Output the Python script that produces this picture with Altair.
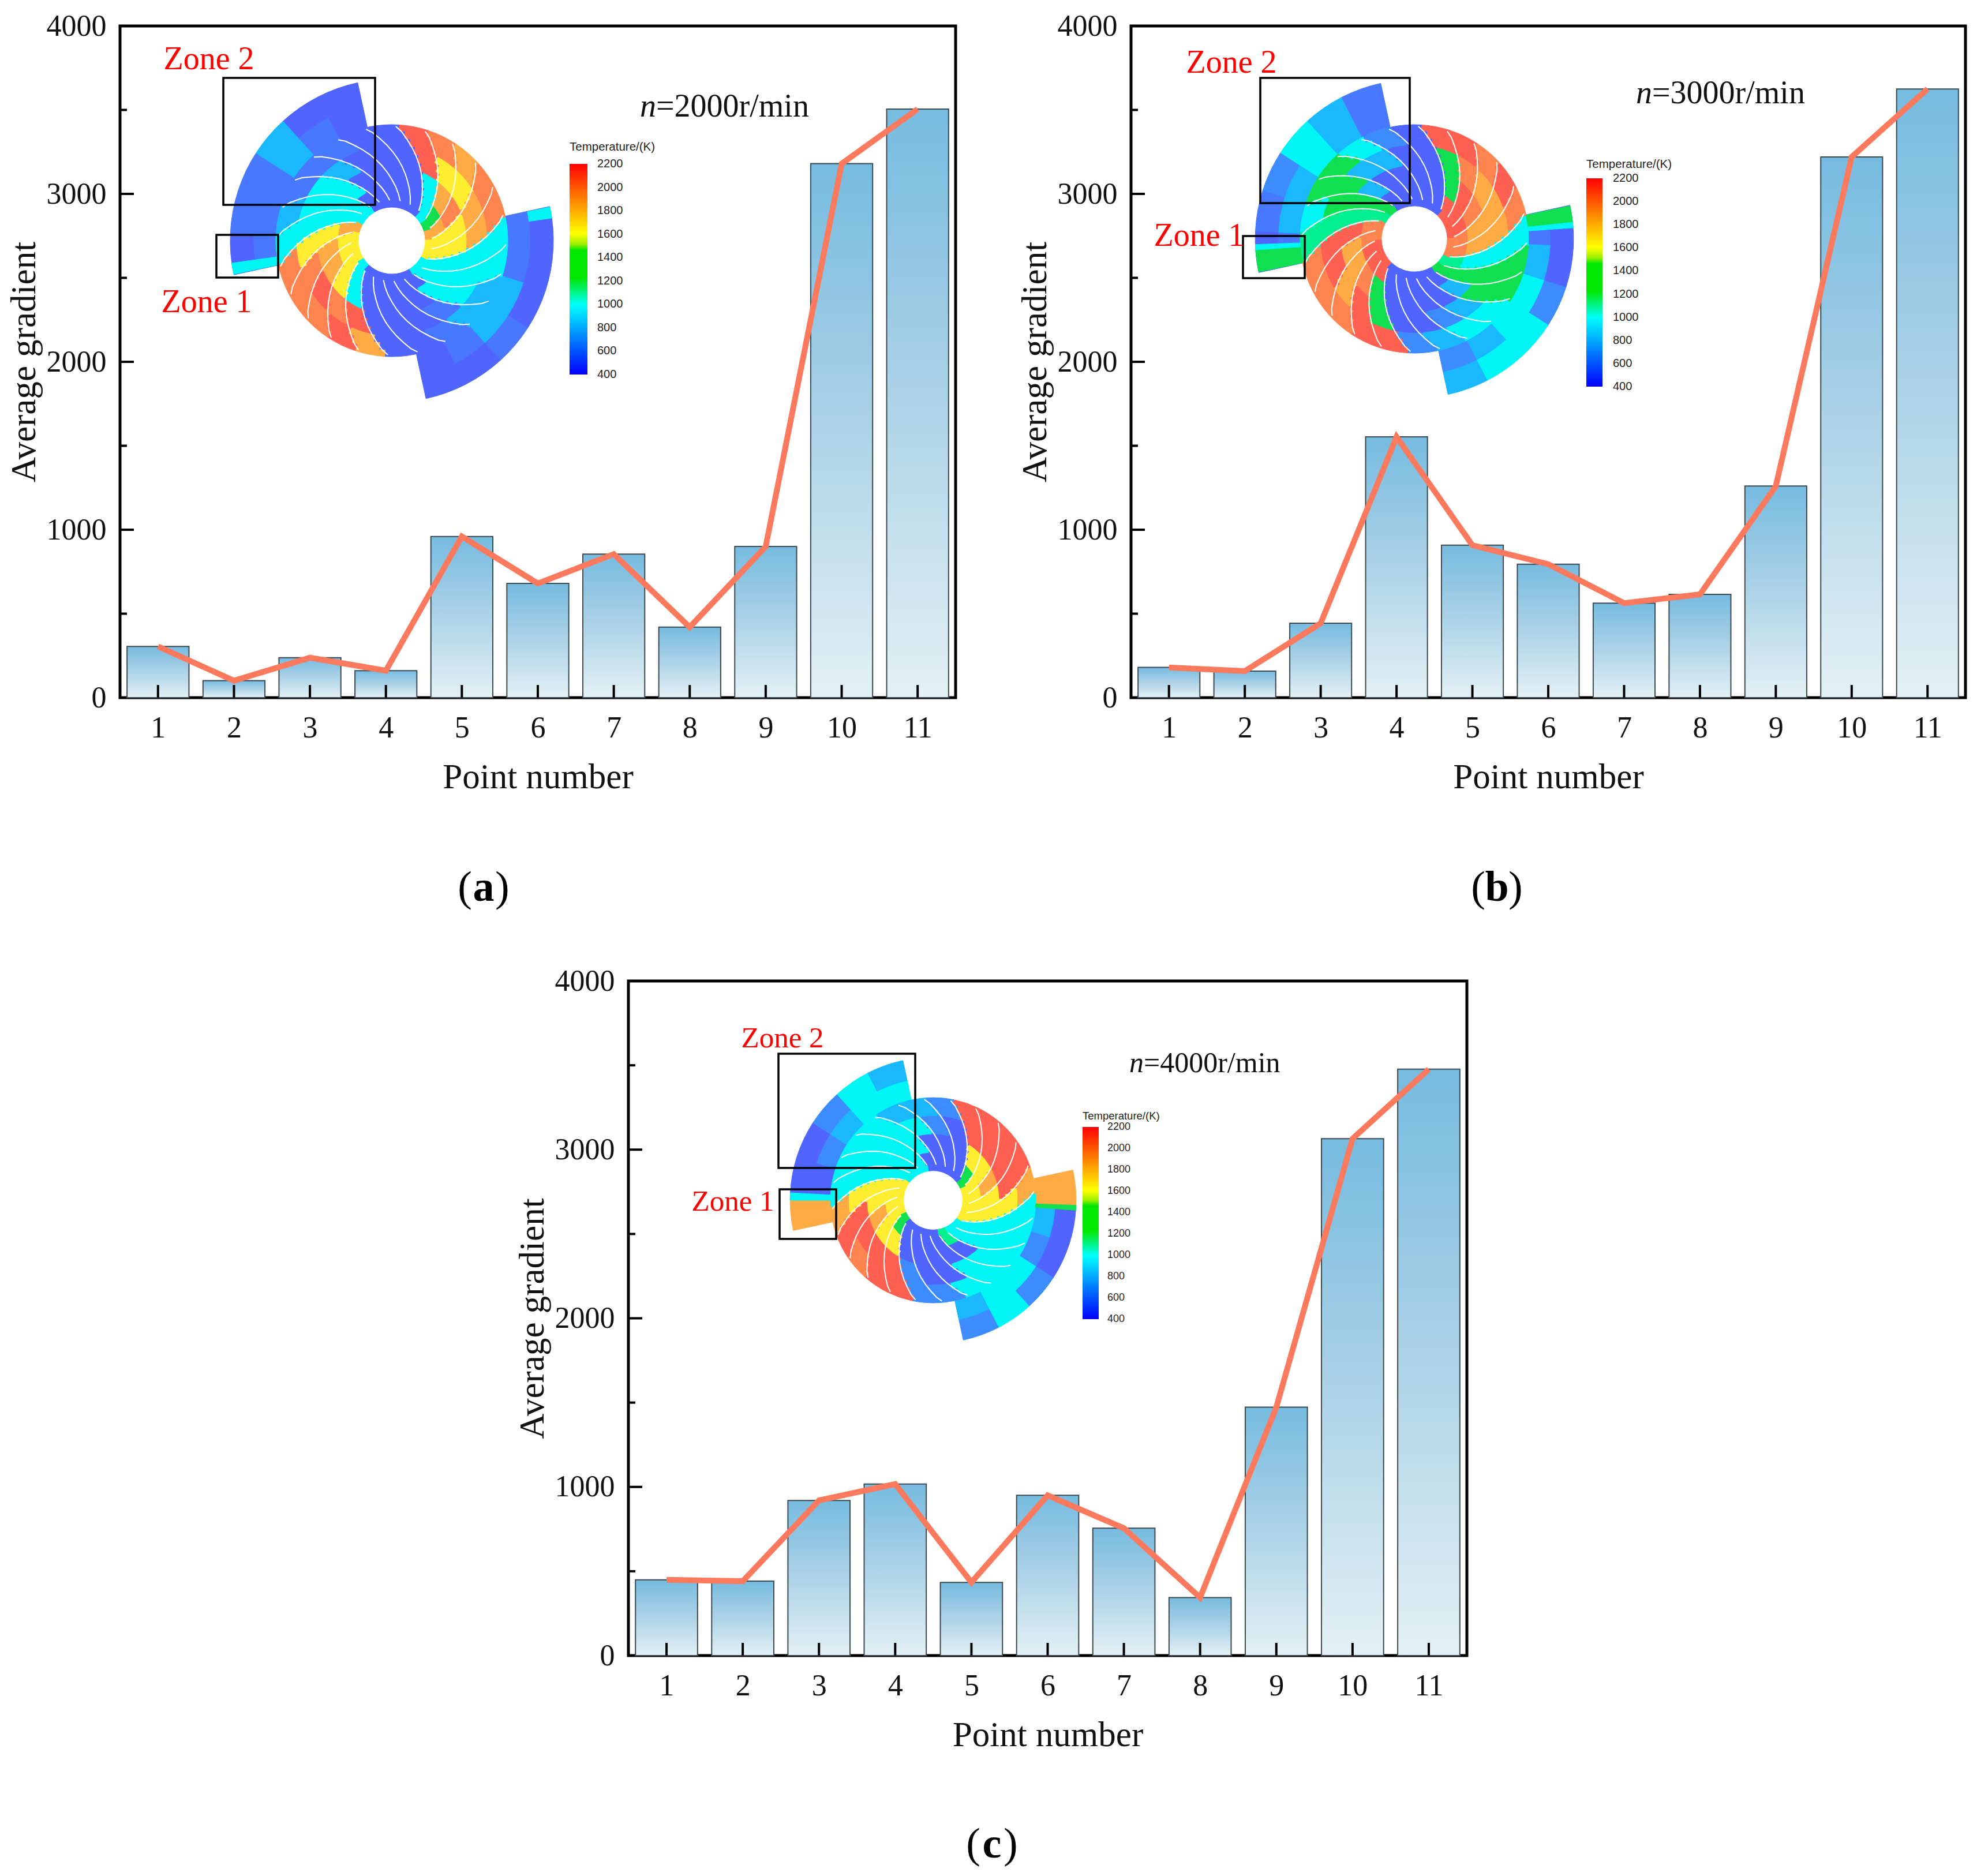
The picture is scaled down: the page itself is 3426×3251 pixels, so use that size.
import math
import altair as alt
import pandas as pd

POINTS = list(range(1, 12))
VALUES_A = [305, 101, 238, 161, 960, 680, 855, 420, 900, 3180, 3505]
VALUES_B = [180, 158, 443, 1553, 908, 795, 563, 615, 1260, 3220, 3625]
VALUES_C = [449, 441, 920, 1017, 434, 950, 755, 344, 1473, 3065, 3477]

COL = {"B": "#5065ff", "N": "#4878ff", "M": "#3d8cff", "L": "#19b8ff", "C": "#00f5f5", "G": "#00f090",
       "E": "#10e050", "Y": "#ffee30", "O": "#ffab45", "R": "#ff6052", "S": "#ff8550"}

RING_R = [58, 70, 82, 94, 106, 118, 130, 142, 154, 166, 178, 190, 201]
RING_A = [46, 42, 38, 34, 30, 26.4, 22.8, 19.2, 15.6, 12, 8.4, 5, 2]
TEMP_LABELS = [2200, 2000, 1800, 1600, 1400, 1200, 1000, 800, 600, 400]

INSET_A = dict(
    hot1=["CCRR", "EOYS", "OSYO", "YYOS", "YYOS"],
    cold1=["CCCC", "CCCC", "BCCL", "BBNL", "BBBN", "BBBB", "BBBB"],
    hot2=["CCRO", "YYSR", "YORS", "YOSS", "OYYS"],
    cold2=["CCCC", "CCCL", "BCCN", "BBLN", "BBBN", "BBBB", "BBBB"],
    wedge_lr=["NB", "NB", "LB", "LN", "NB", "BB"],
    wedge_ul=["NB", "NN", "NN", "LL", "NB", "BB"],
    patches=[(258, 262, 201, 280, "C"), (78, 82, 240, 280, "C")],
)
INSET_B = dict(
    hot1=["REER", "RRSR", "RSOS", "SOOR", "SOOS"],
    cold1=["GCCC", "EEEE", "BLEE", "BBLC", "BBMC", "BBBL", "BBBM"],
    hot2=["REER", "RSRR", "ROOS", "SORS", "SRRS"],
    cold2=["GGGG", "EEEC", "BLEE", "BBLE", "BBLC", "BBBM", "BBBB"],
    wedge_lr=["NB", "LB", "CM", "CC", "LC", "ML"],
    wedge_ul=["NB", "LN", "LM", "CC", "LL", "NN"],
    patches=[(258, 266, 201, 280, "E"), (266, 268, 201, 280, "C"),
             (78, 84, 201, 280, "E"), (84, 86, 201, 280, "C")],
)
INSET_C = dict(
    hot1=["EYRR", "YYRR", "YORR", "YYRR", "YYYO"],
    cold1=["CCCC", "CCCC", "GBCC", "BBCC", "BBBC", "BBBM", "BBMM"],
    hot2=["EYRR", "YYRR", "YORS", "YYRR", "YYYO"],
    cold2=["CCCC", "CCCC", "CCCC", "BCCC", "BBCL", "BBML", "BBBM"],
    wedge_lr=["OO", "LB", "MB", "CM", "CC", "LM"],
    wedge_ul=["OO", "BB", "MB", "LM", "CC", "CL"],
    patches=[(270, 273, 201, 280, "C"), (92, 94, 201, 280, "E")],
)


def panel(values, rect, inset, center, scale, rot, zones, zone_text, zone_size, speed,
          speed_xy, speed_size, bar_rect, temp_xy, temp_size, cap, cap_letter):
    left, right, top, bottom = rect
    W, H = right - left, bottom - top
    X = lambda p: 0.5 + (p - left) / W * 11
    Y = lambda p: (bottom - p) / H * 4000
    xs = alt.Scale(domain=[0.5, 11.5], nice=False, zero=False, padding=0)
    ys = alt.Scale(domain=[0, 4000], nice=False)
    sans = "Liberation Sans"
    serif = "Liberation Serif"

    df = pd.DataFrame({"p": POINTS, "v": values})
    bars = alt.Chart(df).mark_bar(
        size=W / 11 * 0.815, stroke="#3d4a50", strokeWidth=2,
        color=alt.Gradient(gradient="linear", x1=0, x2=0, y1=0, y2=1,
                           stops=[alt.GradientStop(color="#76bbe0", offset=0),
                                  alt.GradientStop(color="#a8d0e6", offset=0.45),
                                  alt.GradientStop(color="#e3f1f5", offset=1)]),
    ).encode(
        x=alt.X("p:Q", scale=xs, axis=alt.Axis(values=POINTS, title="Point number", ticks=False, domain=False,
                                                grid=False, labelFont=serif, labelFontSize=52, labelColor="#111",
                                                labelPadding=27, titleFont=serif, titleFontSize=61,
                                                titleFontWeight="normal", titleColor="#111", titlePadding=30,
                                                format="d", labelFlush=False)),
        y=alt.Y("v:Q", scale=ys, axis=alt.Axis(values=[0, 1000, 2000, 3000, 4000], title="Average gradient",
                                                ticks=False, domain=False, grid=False, labelFont=serif,
                                                labelFontSize=52, labelColor="#111", labelPadding=24,
                                                titleFont=serif, titleFontSize=61, titleFontWeight="normal",
                                                titleColor="#111", titlePadding=7, format="d")),
    )
    line = alt.Chart(df).mark_line(color="#fb7a5d", strokeWidth=10, strokeJoin="miter").encode(
        x=alt.X("p:Q", scale=xs), y=alt.Y("v:Q", scale=ys))

    tick_h = 22 / H * 4000
    xt = pd.DataFrame({"p": POINTS, "y0": 0, "y1": tick_h})
    xticks = alt.Chart(xt).mark_rule(color="black", strokeWidth=4).encode(
        x=alt.X("p:Q", scale=xs), y=alt.Y("y0:Q", scale=ys), y2="y1:Q")
    yt = pd.DataFrame({"v": [500, 1000, 1500, 2000, 2500, 3000, 3500],
                       "x1": [0.5 + n / W * 11 for n in (12, 24, 12, 24, 12, 24, 12)]})
    yt["x0"] = 0.5
    yticks = alt.Chart(yt).mark_rule(color="black", strokeWidth=4).encode(
        y=alt.Y("v:Q", scale=ys), x=alt.X("x0:Q", scale=xs), x2="x1:Q")

    # inset: temperature contour drawn as annular cells
    cx, cy = X(center[0]), Y(center[1])
    rows = []

    def add(a0, a1, r0, r1, code):
        rows.append(dict(cx=cx, cy=cy, t0=math.radians(a0), t1=math.radians(a1),
                         r0=r0 * scale, r1=r1 * scale, c=COL[code]))

    for base, cols in ((77.8, inset["wedge_lr"]), (257.8, inset["wedge_ul"])):
        for j, pair in enumerate(cols):
            add(base + 15 * j, base + 15 * (j + 1), 201, 240, pair[0])
            add(base + 15 * j, base + 15 * (j + 1), 240, 280, pair[1])
    for start, name in ((0, "hot1"), (5, "cold1"), (12, "hot2"), (17, "cold2")):
        for ch, row in enumerate(inset[name]):
            k = start + ch
            for i in range(12):
                mid = (RING_A[i] + RING_A[i + 1]) / 2 + rot
                add(mid + 15 * k, mid + 15 * (k + 1), RING_R[i], RING_R[i + 1], row[i // 3])
    for a0, a1, r0, r1, code in inset["patches"]:
        add(a0, a1, r0, r1, code)
    arcs = alt.Chart(pd.DataFrame(rows)).mark_arc(strokeWidth=1).encode(
        x=alt.X("cx:Q", scale=xs), y=alt.Y("cy:Q", scale=ys),
        theta=alt.Theta("t0:Q", scale=None, stack=None), theta2="t1:Q",
        radius=alt.Radius("r1:Q", scale=None), radius2="r0:Q",
        color=alt.Color("c:N", scale=None), stroke=alt.Stroke("c:N", scale=None))

    blades = []
    for k in range(24):
        for i in range(1, 13):
            a = math.radians(RING_A[i] + rot + 15 * k)
            r = min(RING_R[i], 198) * scale
            blades.append(dict(k=k, i=i, x=X(center[0] + r * math.sin(a)), y=Y(center[1] - r * math.cos(a))))
    blade_lines = alt.Chart(pd.DataFrame(blades)).mark_line(color="white", strokeWidth=2).encode(
        x=alt.X("x:Q", scale=xs), y=alt.Y("y:Q", scale=ys), detail="k:N", order="i:Q")

    # zone boxes
    zb = pd.DataFrame([dict(x=X(z[0]), x2=X(z[1]), y=Y(z[2]), y2=Y(z[3])) for z in zones])
    boxes = alt.Chart(zb).mark_rect(filled=False, stroke="black", strokeWidth=3.5).encode(
        x=alt.X("x:Q", scale=xs), x2="x2:Q", y=alt.Y("y:Q", scale=ys), y2="y2:Q")

    def text(t, px, py, size, color="#111", font=serif, align="left", baseline="middle", **kw):
        d = pd.DataFrame({"x": [X(px)], "y": [Y(py)], "t": [t]})
        return alt.Chart(d).mark_text(color=color, font=font, fontSize=size, align=align,
                                      baseline=baseline, **kw).encode(
            x=alt.X("x:Q", scale=xs), y=alt.Y("y:Q", scale=ys), text="t:N")

    layers = [bars, xticks, yticks, line, arcs, blade_lines, boxes]
    for t, px, py in zone_text:
        layers.append(text(t, px, py, zone_size, color="#ff0000", align="center"))
    layers.append(text("n", speed_xy[0], speed_xy[1], speed_size, align="right", fontStyle="italic"))
    layers.append(text(speed, speed_xy[0], speed_xy[1], speed_size))

    # temperature bar
    bx0, bx1, by0, by1 = bar_rect
    cb = pd.DataFrame({"x": [X(bx0)], "x2": [X(bx1)], "y": [Y(by0)], "y2": [Y(by1)]})
    layers.append(alt.Chart(cb).mark_rect(
        color=alt.Gradient(gradient="linear", x1=0, x2=0, y1=0, y2=1,
                           stops=[alt.GradientStop(color="#ff0000", offset=0),
                                  alt.GradientStop(color="#ffff00", offset=0.33),
                                  alt.GradientStop(color="#a0f000", offset=0.38),
                                  alt.GradientStop(color="#00e800", offset=0.41),
                                  alt.GradientStop(color="#00e800", offset=0.54),
                                  alt.GradientStop(color="#00ffff", offset=0.67),
                                  alt.GradientStop(color="#0080ff", offset=0.83),
                                  alt.GradientStop(color="#0000ff", offset=1)])
    ).encode(x=alt.X("x:Q", scale=xs), x2="x2:Q", y=alt.Y("y:Q", scale=ys), y2="y2:Q"))
    step = (by1 - by0) / (len(TEMP_LABELS) - 1)
    lab = pd.DataFrame({"x": [X(temp_xy[0])] * len(TEMP_LABELS),
                        "y": [Y(by0 + step * i) for i in range(len(TEMP_LABELS))],
                        "t": [str(v) for v in TEMP_LABELS]})
    layers.append(alt.Chart(lab).mark_text(font=sans, fontSize=temp_size, align="left", baseline="middle",
                                           color="#222").encode(
        x=alt.X("x:Q", scale=xs), y=alt.Y("y:Q", scale=ys), text="t:N"))
    layers.append(text("Temperature/(K)", bx0, temp_xy[1], temp_size + 0.5, color="#222", font=sans))

    # caption
    capx, capy = cap
    layers.append(text("(", capx - 20, capy, 74, color="black", align="right"))
    layers.append(text(cap_letter, capx, capy, 74, color="black", align="center", fontWeight="bold"))
    layers.append(text(")", capx + 20, capy, 74, color="black", align="left"))

    return alt.layer(*layers).properties(width=W, height=H,
                                         view=alt.ViewConfig(stroke="black", strokeWidth=5))


a = panel(VALUES_A, (208, 1656, 44, 1208), INSET_A, (679, 416), 1.0, 0,
          [(387, 650, 134, 354), (375, 482, 406, 480)],
          [("Zone 2", 362, 102), ("Zone 1", 358, 523)], 56,
          "=2000r/min", (1137, 184), 56, (987, 1018, 283, 648), (1035, 254), 20,
          (838, 1538), "a")
b = panel(VALUES_B, (1960, 3406, 44, 1208), INSET_B, (2451, 413), 0.985, 0,
          [(2184, 2443, 134, 351), (2154, 2261, 408, 481)],
          [("Zone 2", 2134, 108), ("Zone 1", 2078, 408)], 56,
          "=3000r/min", (2863, 161), 56, (2749, 2777, 308, 669), (2795, 284), 20,
          (2594, 1538), "b")
c = panel(VALUES_C, (1086, 2539, 1700, 2869), INSET_C, (1614, 2080), 0.885, 8,
          [(1346, 1583, 1826, 2024), (1348, 1446, 2061, 2147)],
          [("Zone 2", 1353, 1800), ("Zone 1", 1267, 2083)], 51,
          "=4000r/min", (1979, 1843), 50, (1873, 1901, 1953, 2286), (1916, 1934), 18,
          (1716, 3197), "c")

spacer = alt.Chart(pd.DataFrame({"x": [0]})).mark_point(opacity=0).encode(
    x=alt.X("x:Q", axis=None), y=alt.Y("x:Q", axis=None)
).properties(width=681, height=1, view=alt.ViewConfig(stroke=None))

row1 = alt.hconcat(a, b, spacing=101)
row2 = alt.hconcat(spacer, c, spacing=0)
chart = alt.vconcat(row1, row2, spacing=92).properties(
    padding={"left": 0, "top": 8, "right": 5, "bottom": 5})
chart.save("out.html", embed_options={"renderer": "svg", "actions": False})
